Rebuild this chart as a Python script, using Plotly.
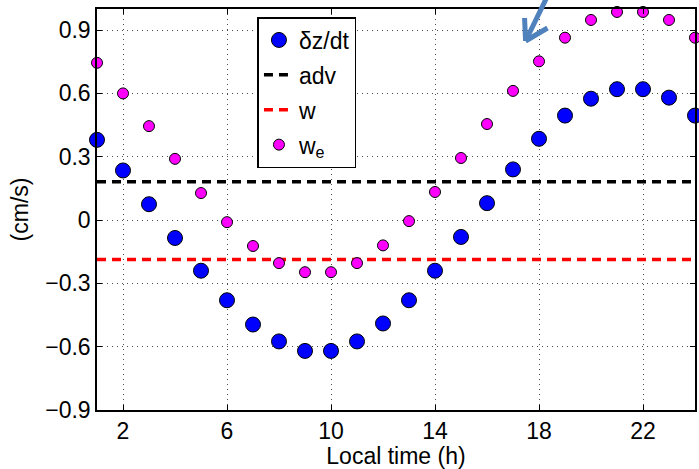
import plotly.graph_objects as go

hours = list(range(1, 25))
dzdt = [0.38, 0.235, 0.075, -0.085, -0.24, -0.38, -0.495, -0.575, -0.62, -0.62, -0.575, -0.49,
        -0.38, -0.24, -0.08, 0.08, 0.24, 0.385, 0.495, 0.575, 0.62, 0.62, 0.58, 0.495]
we = [0.745, 0.60, 0.445, 0.29, 0.128, -0.01, -0.123, -0.204, -0.247, -0.247, -0.204, -0.12,
      -0.005, 0.133, 0.294, 0.455, 0.612, 0.752, 0.864, 0.948, 0.986, 0.986, 0.948, 0.864]
adv_value = 0.182
w_value = -0.187
xticks = [2, 6, 10, 14, 18, 22]
yticks = [-0.9, -0.6, -0.3, 0, 0.3, 0.6, 0.9]
ytick_text = ["\u22120.9", "\u22120.6", "\u22120.3", "0", "0.3", "0.6", "0.9"]

FONT = "Liberation Sans, Arial, Helvetica, sans-serif"
FS = 23

fig = go.Figure()
fig.add_trace(go.Scatter(
    x=hours, y=dzdt, mode="markers", name="\u03b4z/dt", legendgroup="a",
    marker=dict(size=15, color="#0000ff", line=dict(color="black", width=1)),
    cliponaxis=False))
fig.add_trace(go.Scatter(
    x=[hours[0], hours[-1]], y=[adv_value, adv_value], mode="lines", name="adv", legendgroup="b",
    line=dict(color="black", width=3.5, dash="9px,6px")))
fig.add_trace(go.Scatter(
    x=[hours[0], hours[-1]], y=[w_value, w_value], mode="lines", name="w", legendgroup="c",
    line=dict(color="#ff0000", width=3.5, dash="9px,6px")))
fig.add_trace(go.Scatter(
    x=hours, y=we, mode="markers", name="w<sub>e</sub>", legendgroup="d",
    marker=dict(size=11, color="#ff00ff", line=dict(color="black", width=1)),
    cliponaxis=False))

# decorative arrow (open V head) at the top, in pixel->paper coordinates
L, R, T, B = 97, 697, 9, 410
def px(xp):
    return (xp - L) / (R - L)
def py(yp):
    return (B - yp) / (B - T)
arrow_col = "#4f81bd"
tip = (527, 41)
for start in [(549, -4), (526, 18), (549, 28)]:
    fig.add_shape(type="line", xref="paper", yref="paper",
                  x0=px(start[0]), y0=py(start[1]), x1=px(tip[0]), y1=py(tip[1]),
                  line=dict(color=arrow_col, width=5))

axis_common = dict(
    showline=True, linecolor="black", linewidth=1.5, mirror="ticks",
    ticks="inside", ticklen=5, tickcolor="black", tickwidth=1,
    showgrid=True, gridcolor="rgba(0,0,0,0.7)", gridwidth=1, griddash="1px,4px",
    zeroline=False, tickfont=dict(size=FS, color="black", family=FONT),
)

fig.update_layout(
    width=699, height=469,
    margin=dict(l=L, r=699 - R, t=T, b=469 - B),
    paper_bgcolor="white", plot_bgcolor="white",
    font=dict(family=FONT, size=FS, color="black"),
    xaxis=dict(range=[1, 24], tickvals=xticks,
               title=dict(text="Local time (h)", font=dict(size=FS), standoff=0),
               **axis_common),
    yaxis=dict(range=[-0.9, 1.0], tickvals=yticks, ticktext=ytick_text,
               title=dict(text="(cm/s)", font=dict(size=FS), standoff=10),
               **axis_common),
    legend=dict(x=px(258), y=py(17), xanchor="left", yanchor="top",
                bordercolor="black", borderwidth=1.5, bgcolor="white",
                font=dict(size=FS, family=FONT), tracegroupgap=2,
                traceorder="grouped"),
    showlegend=True,
)

fig.write_html("out.html")
